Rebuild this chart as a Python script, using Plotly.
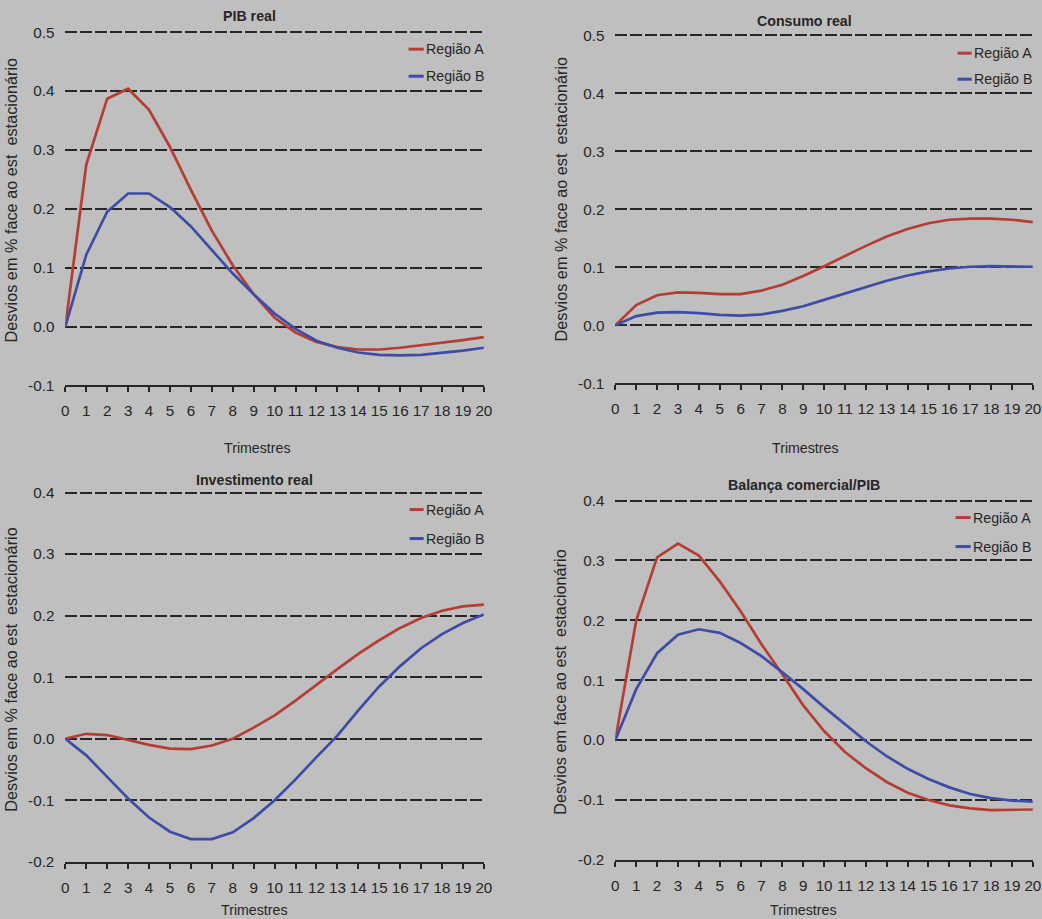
import plotly.graph_objects as go

# ---- data -------------------------------------------------------------
quarters = list(range(21))

pib_a = [0.0, 0.275, 0.387, 0.404, 0.368, 0.305, 0.232, 0.163, 0.104, 0.055, 0.015,
         -0.010, -0.026, -0.035, -0.039, -0.039, -0.036, -0.032, -0.027, -0.023, -0.018]
pib_b = [0.0, 0.122, 0.195, 0.226, 0.226, 0.203, 0.170, 0.130, 0.090, 0.055, 0.022,
         -0.004, -0.024, -0.036, -0.044, -0.048, -0.049, -0.048, -0.045, -0.041, -0.036]

cons_a = [0.0, 0.035, 0.052, 0.057, 0.056, 0.054, 0.054, 0.060, 0.070, 0.085, 0.102,
          0.120, 0.137, 0.153, 0.166, 0.176, 0.182, 0.184, 0.184, 0.182, 0.178]
cons_b = [0.0, 0.016, 0.022, 0.023, 0.021, 0.018, 0.017, 0.019, 0.025, 0.033, 0.044,
          0.055, 0.066, 0.077, 0.086, 0.093, 0.098, 0.101, 0.102, 0.102, 0.101]

inv_a = [0.0, 0.008, 0.006, -0.002, -0.010, -0.016, -0.017, -0.011, 0.000, 0.018, 0.038,
         0.062, 0.088, 0.113, 0.138, 0.160, 0.180, 0.196, 0.208, 0.215, 0.218]
inv_b = [0.0, -0.027, -0.062, -0.097, -0.128, -0.151, -0.163, -0.163, -0.152, -0.129, -0.100,
         -0.066, -0.030, 0.005, 0.046, 0.085, 0.118, 0.147, 0.170, 0.188, 0.202]

bal_a = [0.0, 0.200, 0.305, 0.328, 0.308, 0.265, 0.215, 0.160, 0.110, 0.058, 0.015,
         -0.020, -0.047, -0.070, -0.088, -0.100, -0.109, -0.114, -0.117, -0.117, -0.116]
bal_b = [0.0, 0.085, 0.145, 0.176, 0.185, 0.179, 0.162, 0.140, 0.113, 0.085, 0.055,
         0.026, -0.002, -0.027, -0.048, -0.065, -0.079, -0.090, -0.097, -0.101, -0.103]

yticks_top = [-0.1, 0.0, 0.1, 0.2, 0.3, 0.4, 0.5]
yticks_bottom = [-0.2, -0.1, 0.0, 0.1, 0.2, 0.3, 0.4]

titles = ["PIB real", "Consumo real", "Investimento real", "Balança comercial/PIB"]
ytitle_pct = "Desvios em % face ao est  estacionário"
ytitle_plain = "Desvios em face ao est  estacionário"
xtitle = "Trimestres"
series_names = ["Região A", "Região B"]

# ---- styling ----------------------------------------------------------
W, H = 1042, 919
BODY_MARGIN = 8                      # default <body> margin around the figure
VIEW_W, VIEW_H = W + 2 * BODY_MARGIN, H + 2 * BODY_MARGIN
SX, SY = VIEW_W / W, VIEW_H / H       # layout pixel -> page pixel factors
BG = "#bfbfbf"
INK = "#262626"
RED = "#b43d35"
BLUE = "#3f4ca6"
FONT = "Liberation Sans, Arial, sans-serif"
HEADROOM = 0.003  # small extra range so the top gridline is drawn


def fx(p):
    # layout pixel -> paper fraction
    return (p * SX - BODY_MARGIN) / W


def fy(p):
    return 1 - (p * SY - BODY_MARGIN) / H


def fs(size):
    return round(size * SX, 2)


# pixel layout of each panel: x0, x1, y_top, y_bottom,
# title pos, y-title pos, x-title pos, legend (key x0, key x1, yA, yB)
panels = [
    dict(data=(pib_a, pib_b), ticks=yticks_top, title=titles[0], ytitle=ytitle_pct,
         box=(69, 486, 33, 386), tpos=(252, 17), ypos=(15, 201), xpos=(260, 449),
         leg=(411, 426, 50, 77)),
    dict(data=(cons_a, cons_b), ticks=yticks_top, title=titles[1], ytitle=ytitle_pct,
         box=(617, 1033, 36, 384), tpos=(805, 22), ypos=(563, 200), xpos=(806, 449),
         leg=(958, 972, 54, 80)),
    dict(data=(inv_a, inv_b), ticks=yticks_bottom, title=titles[2], ytitle=ytitle_pct,
         box=(69, 486, 493, 862), tpos=(257, 480), ypos=(15, 670), xpos=(257, 910),
         leg=(412, 426, 510, 539)),
    dict(data=(bal_a, bal_b), ticks=yticks_bottom, title=titles[3], ytitle=ytitle_plain,
         box=(617, 1033, 501, 860), tpos=(805, 485), ypos=(562, 682), xpos=(804, 910),
         leg=(956, 971, 518, 547)),
]

fig = go.Figure()
annotations = []
shapes = []
layout_axes = {}

for i, p in enumerate(panels, start=1):
    sfx = "" if i == 1 else str(i)
    xa, ya = "x" + sfx, "y" + sfx
    x0, x1, yt, yb = p["box"]
    lo, hi = p["ticks"][0], p["ticks"][-1]
    top_px = yt - HEADROOM / (hi - lo) * (yb - yt)

    for vals, name, col in zip(p["data"], series_names, (RED, BLUE)):
        fig.add_trace(go.Scatter(
            x=quarters, y=vals, mode="lines", name=name, showlegend=False,
            line=dict(color=col, width=2.7), xaxis=xa, yaxis=ya,
        ))

    layout_axes["xaxis" + sfx] = dict(
        domain=[fx(x0), fx(x1)], range=[0, 20], anchor=ya,
        showgrid=False, zeroline=False, showline=True, linecolor=INK, linewidth=1.5,
        ticks="outside", ticklen=5, tickwidth=1.5, tickcolor=INK,
        tickvals=quarters, ticktext=[str(q) for q in quarters],
        tickfont=dict(family=FONT, size=fs(15), color=INK), ticklabelstandoff=6,
    )
    layout_axes["yaxis" + sfx] = dict(
        domain=[fy(yb), fy(top_px)], range=[lo, hi + HEADROOM], anchor=xa,
        showgrid=True, gridcolor=INK, gridwidth=1.7, griddash="12px,3px",
        zeroline=False, showline=False, ticks="",
        tickvals=p["ticks"], ticktext=[f"{v:.1f}" for v in p["ticks"]],
        tickfont=dict(family=FONT, size=fs(15), color=INK), ticklabelstandoff=10,
    )

    tx, ty = p["tpos"]
    annotations.append(dict(text="<b>" + p["title"] + "</b>", x=fx(tx), y=fy(ty),
                            xref="paper", yref="paper", showarrow=False,
                            xanchor="center", yanchor="middle",
                            font=dict(family=FONT, size=fs(14), color=INK)))
    yx, yy = p["ypos"]
    annotations.append(dict(text=p["ytitle"], x=fx(yx), y=fy(yy), textangle=-90,
                            xref="paper", yref="paper", showarrow=False,
                            xanchor="center", yanchor="middle",
                            font=dict(family=FONT, size=fs(16), color=INK)))
    xx, xy = p["xpos"]
    annotations.append(dict(text=xtitle, x=fx(xx), y=fy(xy),
                            xref="paper", yref="paper", showarrow=False,
                            xanchor="center", yanchor="middle",
                            font=dict(family=FONT, size=fs(14), color=INK)))

    # legend entries: short coloured key followed by the series name
    d0, d1, la, lb = p["leg"]
    for name, col, ly in zip(series_names, (RED, BLUE), (la, lb)):
        shapes.append(dict(type="line", xref="paper", yref="paper",
                           x0=fx(d0), x1=fx(d1), y0=fy(ly), y1=fy(ly),
                           line=dict(color=col, width=3)))
        annotations.append(dict(text=name, x=fx(d1), y=fy(ly),
                                xref="paper", yref="paper", showarrow=False,
                                xanchor="left", yanchor="middle",
                                font=dict(family=FONT, size=fs(14), color=INK)))

fig.update_layout(
    width=W, height=H, autosize=False,
    margin=dict(l=0, r=0, t=0, b=0, pad=0),
    paper_bgcolor=BG, plot_bgcolor=BG,
    font=dict(family=FONT, color=INK),
    showlegend=False,
    annotations=annotations, shapes=shapes,
    **layout_axes,
)

# paint the page around the figure in the same grey
page_js = (
    f"document.documentElement.style.background='{BG}';"
    f"document.body.style.background='{BG}';"
)

fig.write_html("out.html", post_script=page_js)
